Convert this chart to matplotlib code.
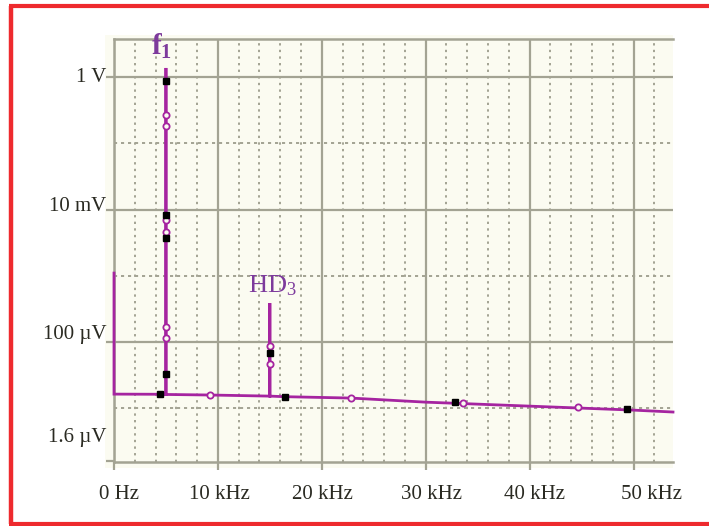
import matplotlib
matplotlib.use('Agg')
import matplotlib.pyplot as plt
from matplotlib.lines import Line2D
from matplotlib.patches import Rectangle
from matplotlib.ticker import NullFormatter
from matplotlib.transforms import ScaledTranslation

# ---------------- data ----------------
trace_khz = [0, 0, 5, 5, 5, 9.2, 15, 15, 15, 16.4, 22.8, 30, 40, 50, 53.8]
trace_v = [1.10e-3, 16.4e-6, 16.3e-6, 1.37, 16.2e-6, 15.9e-6, 15.3e-6, 388e-6,
           15.3e-6, 15.0e-6, 14.3e-6, 12.4e-6, 10.8e-6, 9.4e-6, 8.8e-6]

filled_khz = [5, 5, 5, 5, 4.42, 15, 16.44, 32.8, 49.4]
filled_v = [0.87, 8.26e-3, 3.71e-3, 32.9e-6, 16.4e-6, 68.2e-6, 15.0e-6, 12.4e-6, 9.75e-6]

open_khz = [5, 5, 5, 5, 5, 5, 15, 15, 9.2, 22.8, 33.6, 44.7]
open_v = [0.267, 0.182, 6.95e-3, 4.57e-3, 168e-6, 115e-6, 87e-6, 46.6e-6,
          15.9e-6, 14.1e-6, 12.0e-6, 10.4e-6]

x_ticks = [0, 10, 20, 30, 40, 50]
x_labels = ["0 Hz", "10 kHz", "20 kHz", "30 kHz", "40 kHz", "50 kHz"]
y_ticks = [1, 1e-2, 1e-4, 1.6e-6]
y_labels = ["1 V", "10 mV", "100 \u00b5V", "1.6 \u00b5V"]
y_minor = [1e-1, 1e-3, 1e-5]
x_minor = [v for v in range(2, 54, 2) if v % 10 != 0]

peak_labels = [(5, r"$\mathregular{f_1}$"), (15, r"$\mathregular{HD_3}$")]

# ---------------- style ----------------
W, H = 709, 526
DPI = 100
plt.rcParams['font.family'] = ['Liberation Serif', 'DejaVu Serif']
BG = '#FBFBF1'
GRID = '#A3A393'
TRACE = '#A524A0'
LABEL = '#7D3A9C'
TXT = '#2A2A22'

fig = plt.figure(figsize=(W / DPI, H / DPI), dpi=DPI)
fig.patch.set_facecolor('white')

L, R, T, B = 114, 673, 39, 462
ax = fig.add_axes([L / W, 1 - B / H, (R - L) / W, (B - T) / H])

# cream panel slightly larger than the axes
fig.add_artist(Rectangle((105 / W, 1 - 468 / H), (673 - 105) / W, (468 - 35) / H,
                         transform=fig.transFigure, facecolor=BG, edgecolor='none', zorder=-5))
ax.set_facecolor(BG)

ax.set_yscale('log')
ax.set_xlim(0, 53.8)
ax.set_ylim(1.55e-6, 3.75)

# grid
ax.set_xticks(x_ticks)
ax.set_xticklabels(x_labels)
ax.set_xticks(x_minor, minor=True)
ax.set_yticks(y_ticks)
ax.set_yticklabels(y_labels)
ax.set_yticks(y_minor, minor=True)
ax.yaxis.set_minor_formatter(NullFormatter())
ax.xaxis.set_minor_formatter(NullFormatter())
ax.grid(which='major', axis='x', color=GRID, lw=1.6, ls='-')
ax.grid(which='minor', axis='x', color=GRID, lw=1.4, ls=(0, (1.2, 2.2)))
ax.grid(which='minor', axis='y', color=GRID, lw=1.4, ls=(0, (1.6, 2.0)))
for yv in y_ticks[:3]:
    ax.axhline(yv, color=GRID, lw=1.6, zorder=0.5)
ax.set_axisbelow(True)

ax.tick_params(which='major', length=6, width=1.6, color=GRID, labelsize=15,
               labelcolor=TXT, pad=6)
ax.tick_params(which='minor', length=0)
ax.tick_params(axis='y', pad=1)

for side in ['top', 'bottom', 'left']:
    ax.spines[side].set_color(GRID)
    ax.spines[side].set_linewidth(1.8)
ax.spines['right'].set_visible(False)

# label offsets (pixels)
x_off = [5, 2, 1, 6, 5, 18]
for lab, dx in zip(ax.get_xticklabels(), x_off):
    lab.set_transform(lab.get_transform() + ScaledTranslation(dx / DPI, -6 / DPI, fig.dpi_scale_trans))
y_off = [2, 6, 10, 26]
for lab, dy in zip(ax.get_yticklabels(), y_off):
    lab.set_transform(lab.get_transform() + ScaledTranslation(2 / DPI, dy / DPI, fig.dpi_scale_trans))

# trace
ax.plot(trace_khz, trace_v, color=TRACE, lw=2.0, solid_joinstyle='miter', zorder=3, clip_on=False)
ax.plot(open_khz, open_v, ls='none', marker='o', ms=4.5, mfc=BG, mec=TRACE, mew=1.3, zorder=4)
ax.plot(filled_khz, filled_v, ls='none', marker='s', ms=5, mfc='black', mec='black', zorder=5)

# peak labels
peak_pos = {5: (4.6, 2.85), 15: (15.2, 720e-6)}
peak_size = {5: 21, 15: 19}
peak_weight = {5: 'bold', 15: 'normal'}
for xk, txt in peak_labels:
    px, py = peak_pos[xk]
    ax.text(px, py, txt, color=LABEL, fontsize=peak_size[xk], fontweight=peak_weight[xk],
            ha='center', va='center', zorder=6)

# red frame (left, top, bottom)
red = '#EE2A2E'
fig.add_artist(Line2D([10.5 / W, 10.5 / W], [1 - 5.5 / H, 1 - 523.5 / H], color=red, lw=3.2,
                      transform=fig.transFigure, solid_capstyle='butt'))
fig.add_artist(Line2D([9 / W, 1.0], [1 - 6 / H, 1 - 6 / H], color=red, lw=3.0,
                      transform=fig.transFigure, solid_capstyle='butt'))
fig.add_artist(Line2D([9 / W, 1.0], [1 - 523.5 / H, 1 - 523.5 / H], color=red, lw=3.0,
                      transform=fig.transFigure, solid_capstyle='butt'))

fig.savefig('out.png', dpi=DPI, facecolor='white')
